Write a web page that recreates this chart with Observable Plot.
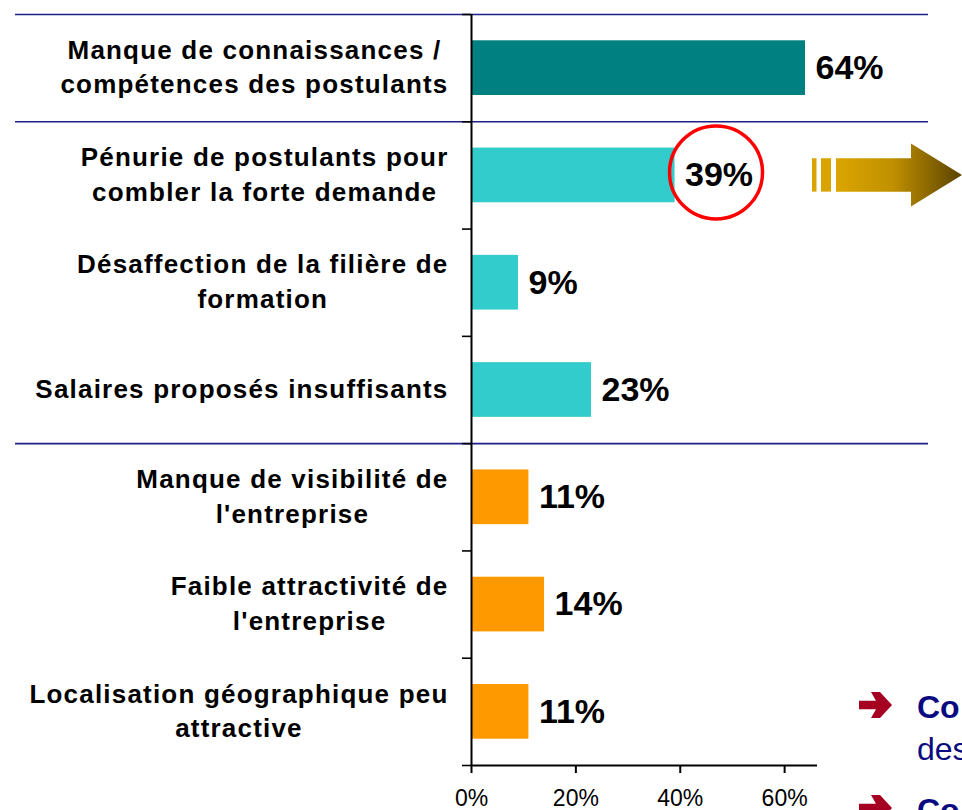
<!DOCTYPE html>
<html>
<head>
<meta charset="utf-8">
<script src="https://cdn.jsdelivr.net/npm/d3@7"></script>
<script src="https://cdn.jsdelivr.net/npm/@observablehq/plot@0.6"></script>
<style>
  html, body { margin: 0; padding: 0; background: #fff; overflow: hidden; }
  #chart svg { display: block; }
</style>
</head>
<body>
<div id="chart"></div>
<script>
// ---- data ----
const categories = [
  "Manque de connaissances /\ncompétences des postulants",
  "Pénurie de postulants pour\ncombler la forte demande",
  "Désaffection de la filière de\nformation",
  "Salaires proposés insuffisants",
  "Manque de visibilité de\nl'entreprise",
  "Faible attractivité de\nl'entreprise",
  "Localisation géographique peu\nattractive"
];
const values = [64, 39, 9, 23, 11, 14, 11];
const groups = ["Compétences", "Marché", "Marché", "Marché", "Entreprise", "Entreprise", "Entreprise"];
const groupNames = ["Compétences", "Marché", "Entreprise"];
const groupColors = ["#008080", "#33cccc", "#ff9900"];
const xTicks = [0, 20, 40, 60];
const xMax = 66.3;
const separators = [0, 1, 4];   // group separators (band boundaries)
const highlight = 1;            // circled value
const notes = [["Co", "des"], ["Co", ""]];

// ---- layout ----
const labelSize = 26, labelSpacing = 1.2, valueSize = 34;
const rows = categories.map((c, i) => ({
  label: c, value: values[i], group: groups[i],
  y1: i + 0.245, y2: i + 0.755, yc: i + 0.5
}));

const ctx = document.createElement("canvas").getContext("2d");
ctx.font = `bold ${labelSize}px "Liberation Sans"`;
const labelWidth = s => d3.max(s.split("\n"), l => ctx.measureText(l).width + labelSpacing * l.length);

function decorations(index, scales, values, dims) {
  const g = d3.create("svg:g").attr("text-anchor", "start");
  const W = dims.width;
  const yc = scales.y(rows[highlight].yc);
  const grad = g.append("defs").append("linearGradient")
    .attr("id", "goldGrad").attr("x1", 0).attr("x2", 1).attr("y1", 0).attr("y2", 0);
  grad.append("stop").attr("offset", 0).attr("stop-color", "#dba600");
  grad.append("stop").attr("offset", 0.45).attr("stop-color", "#c09000");
  grad.append("stop").attr("offset", 1).attr("stop-color", "#5a4200");
  const sh = 16.7, hh = 31.5;
  g.append("rect").attr("x", 812).attr("y", yc - sh).attr("width", 4.5).attr("height", 2 * sh).attr("fill", "#d9a400");
  g.append("rect").attr("x", 821).attr("y", yc - sh).attr("width", 10).attr("height", 2 * sh).attr("fill", "#d9a400");
  g.append("path")
    .attr("d", `M836,${yc - sh}L911,${yc - sh}L911,${yc - hh}L${W},${yc}L911,${yc + hh}L911,${yc + sh}L836,${yc + sh}Z`)
    .attr("fill", "url(#goldGrad)");
  // bottom-right notes (cropped slide text)
  const arrow = (x, y) => `M${x},${y - 4.3}L${x + 17},${y - 4.3}L${x + 12},${y - 13}L${x + 21},${y - 13}L${x + 33},${y}L${x + 21},${y + 13}L${x + 12},${y + 13}L${x + 17},${y + 4.3}L${x},${y + 4.3}Z`;
  const noteY = [718, 821];
  notes.forEach((n, k) => {
    g.append("path").attr("d", arrow(859, noteY[k] - 13)).attr("fill", "#a50021");
    g.append("text").attr("x", 917).attr("y", noteY[k]).attr("fill", "#0a0a80")
      .attr("text-anchor", "start").attr("font-size", 32).attr("font-weight", "bold").text(n[0]);
    if (n[1]) g.append("text").attr("x", 917).attr("y", noteY[k] + 42).attr("fill", "#0a0a80")
      .attr("text-anchor", "start").attr("font-size", 32).text(n[1]);
  });
  return g.node();
}

const chart = Plot.plot({
  width: 962,
  height: 810,
  marginLeft: 15,
  marginRight: 34,
  marginTop: 14,
  marginBottom: 45,
  style: { fontFamily: "'Liberation Sans', Arial, sans-serif", background: "#fff", overflow: "hidden" },
  x: { domain: [0, xMax], range: [471, 817], axis: null, label: null },
  y: { domain: [0, categories.length], range: [14, 765], axis: null, label: null },
  color: { domain: groupNames, range: groupColors },
  marks: [
    Plot.ruleY(separators, { stroke: "#1f1f8c", strokeWidth: 1.6 }),
    Plot.rectX(rows, { x1: 0, x2: "value", y1: "y1", y2: "y2", fill: "group" }),
    Plot.ruleX([0], { stroke: "#000", strokeWidth: 2 }),
    Plot.ruleY([categories.length], { x1: 0, x2: xMax, stroke: "#000", strokeWidth: 2 }),
    Plot.ruleY(d3.range(categories.length + 1), { x1: 0, x2: 0, insetLeft: -9, stroke: "#000", strokeWidth: 1.6 }),
    Plot.axisX({ ticks: xTicks, tickFormat: d => d + "%", tickSize: 8, tickPadding: 16, fontSize: 23, strokeWidth: 2, label: null }),
    ...rows.map(r => Plot.text([r], {
      x: 0, y: "yc", text: "label",
      textAnchor: "middle", lineAnchor: "middle", lineHeight: 1.33,
      dx: -(23 + labelWidth(r.label) / 2), dy: -3,
      fontSize: labelSize, fontWeight: "bold", fill: "#000"
    })),
    Plot.text(rows, { x: "value", y: "yc", text: d => d.value + "%", textAnchor: "start", dx: 10, fontSize: valueSize, fontWeight: "bold", fill: "#000" }),
    Plot.dot([rows[highlight]], { x: "value", y: "yc", r: 46.5, dx: 41, dy: -3, stroke: "#ff0000", strokeWidth: 3.5, fill: "none" }),
    decorations
  ]
});

document.getElementById("chart").appendChild(chart);

// letter spacing on the category labels
const labelTexts = new Set(categories.map(c => c.replace(/\n/g, "")));
d3.select(chart).selectAll("text")
  .filter(function () { return labelTexts.has(this.textContent); })
  .style("letter-spacing", labelSpacing + "px");
</script>
</body>
</html>
